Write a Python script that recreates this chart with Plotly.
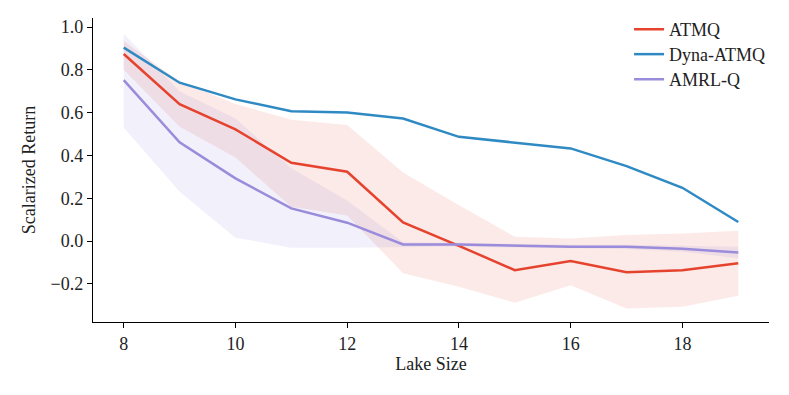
import plotly.graph_objects as go

lake_size = [8, 9, 10, 11, 12, 13, 14, 15, 16, 17, 18, 19]

atmq = [0.874, 0.640, 0.522, 0.366, 0.324, 0.087, -0.022, -0.136, -0.093, -0.145, -0.136, -0.104]
atmq_upper = [0.935, 0.745, 0.64, 0.567, 0.542, 0.32, 0.168, 0.02, 0.012, 0.028, 0.036, 0.048]
atmq_lower = [0.80, 0.534, 0.39, 0.16, 0.12, -0.15, -0.213, -0.288, -0.206, -0.315, -0.307, -0.255]

dyna_atmq = [0.904, 0.740, 0.662, 0.607, 0.601, 0.573, 0.487, 0.461, 0.433, 0.350, 0.249, 0.089]

amrl_q = [0.752, 0.461, 0.293, 0.153, 0.086, -0.016, -0.016, -0.023, -0.027, -0.027, -0.036, -0.053]
amrl_upper = [0.967, 0.70, 0.573, 0.34, 0.19, -0.005, -0.008, -0.013, -0.017, -0.017, -0.022, -0.027]
amrl_lower = [0.531, 0.23, 0.016, -0.031, -0.031, -0.028, -0.025, -0.03, -0.035, -0.037, -0.05, -0.08]

y_ticks = [-0.2, 0.0, 0.2, 0.4, 0.6, 0.8, 1.0]
y_ticktext = ["\u22120.2", "0.0", "0.2", "0.4", "0.6", "0.8", "1.0"]
x_ticks = [8, 10, 12, 14, 16, 18]

RED = "#E5432E"
BLUE = "#2F8AC4"
PURPLE = "#9A8CDB"

fig = go.Figure()

# bands
fig.add_trace(go.Scatter(x=lake_size, y=atmq_lower, mode="lines", line=dict(width=0),
                         showlegend=False, hoverinfo="skip"))
fig.add_trace(go.Scatter(x=lake_size, y=atmq_upper, mode="lines", line=dict(width=0),
                         fill="tonexty", fillcolor="rgba(229,67,46,0.11)",
                         showlegend=False, hoverinfo="skip"))
fig.add_trace(go.Scatter(x=lake_size, y=amrl_lower, mode="lines", line=dict(width=0),
                         showlegend=False, hoverinfo="skip"))
fig.add_trace(go.Scatter(x=lake_size, y=amrl_upper, mode="lines", line=dict(width=0),
                         fill="tonexty", fillcolor="rgba(154,140,219,0.13)",
                         showlegend=False, hoverinfo="skip"))

# lines
fig.add_trace(go.Scatter(x=lake_size, y=atmq, mode="lines", name="ATMQ",
                         line=dict(color=RED, width=2.5), legend="legend"))
fig.add_trace(go.Scatter(x=lake_size, y=dyna_atmq, mode="lines", name="Dyna-ATMQ",
                         line=dict(color=BLUE, width=2.5), legend="legend2"))
fig.add_trace(go.Scatter(x=lake_size, y=amrl_q, mode="lines", name="AMRL-Q",
                         line=dict(color=PURPLE, width=2.5), legend="legend3"))

font_family = "Liberation Serif, Times New Roman, serif"
leg_common = dict(x=0.793, xanchor="left", yanchor="top",
                  font=dict(size=18, family=font_family, color="#222"),
                  bgcolor="rgba(0,0,0,0)")

fig.update_layout(
    width=789, height=395,
    margin=dict(l=85, r=28, t=0, b=81),
    plot_bgcolor="white", paper_bgcolor="white",
    font=dict(family=font_family, size=18, color="#222"),
    legend=dict(y=0.990, **leg_common),
    legend2=dict(y=0.911, **leg_common),
    legend3=dict(y=0.831, **leg_common),
    xaxis=dict(range=[7.45, 19.55], tickvals=x_ticks, showgrid=False, zeroline=False,
               showline=True, linecolor="black", linewidth=1.3, automargin=False,
               ticks="outside", ticklen=5, tickwidth=1.3, tickcolor="black",
               title=dict(text="Lake Size", font=dict(size=18), standoff=4),
               tickfont=dict(size=18)),
    yaxis=dict(range=[-0.378, 1.042], domain=[0, 0.968], tickvals=y_ticks, ticktext=y_ticktext,
               showgrid=False, zeroline=False,
               showline=True, linecolor="black", linewidth=1.3, automargin=False,
               ticks="outside", ticklen=5, tickwidth=1.3, tickcolor="black",
               title=dict(text="Scalarized Return", font=dict(size=18), standoff=10),
               tickfont=dict(size=18)),
)

fig.write_html("out.html")
